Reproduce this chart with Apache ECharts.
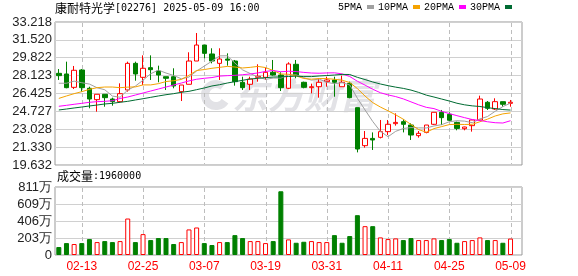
<!DOCTYPE html>
<html><head><meta charset="utf-8">
<script src="https://cdn.jsdelivr.net/npm/echarts@6/dist/echarts.min.js"></script>
<style>html,body{margin:0;padding:0;background:#fff}#c{width:578px;height:276px}</style>
</head><body><div id="c"></div>
<script>
const dates = ['02-10','02-11','02-12','02-13','02-14','02-17','02-18','02-19','02-20','02-21','02-24','02-25','02-26','02-27','02-28',
'03-03','03-04','03-05','03-06','03-07','03-10','03-11','03-12','03-13','03-14','03-17','03-18','03-19','03-20','03-21','03-24','03-25','03-26','03-27','03-28','03-31',
'04-01','04-02','04-03','04-07','04-08','04-09','04-10','04-11','04-14','04-15','04-16','04-17','04-22','04-23','04-24','04-25','04-28','04-29','04-30',
'05-02','05-06','05-07','05-08','05-09'];
const labelDates = ['02-13','02-25','03-07','03-19','03-31','04-11','04-25','05-09'];
const priceTicks = ['19.632','21.330','23.028','24.727','26.425','28.123','29.822','31.520','33.218'];
const volTicks = ['0','203万','406万','609万','811万'];
const opens = [28.34,28.28,27.01,28.66,26.92,25.84,26.35,25.90,25.65,26.76,29.29,27.96,28.88,28.56,28.02,28.02,26.60,27.30,29.51,31.03,30.18,29.29,29.70,29.51,27.49,27.30,27.96,27.96,28.44,28.18,26.92,29.20,27.49,26.98,27.07,27.55,27.71,27.07,27.39,25.08,21.47,22.16,22.26,22.80,23.56,23.75,23.43,22.42,22.73,23.50,24.64,24.45,23.68,23.08,23.37,23.91,25.59,24.95,25.65,25.49];
const closes = [28.12,26.98,28.63,26.98,25.90,26.35,26.03,25.65,26.41,29.29,28.28,28.82,28.69,28.18,27.87,27.14,27.23,29.51,31.03,30.24,29.51,29.70,29.59,27.55,26.98,27.80,28.06,28.44,28.18,26.98,29.23,28.18,27.01,27.07,27.49,27.71,27.49,27.49,26.03,21.15,22.16,22.01,22.80,23.50,23.68,23.50,22.48,22.64,23.43,24.64,24.13,23.88,23.11,23.24,23.91,25.90,25.02,25.65,25.40,25.59];
const highs = [28.75,29.45,29.04,28.75,27.07,26.35,26.35,26.03,27.39,29.45,29.45,30.05,30.05,29.07,28.02,28.82,27.23,30.34,32.17,31.03,30.72,30.72,30.24,29.61,28.02,28.02,29.20,28.88,29.61,28.44,29.39,29.61,27.55,27.36,27.87,28.02,28.02,28.12,27.55,25.08,22.86,22.73,23.91,23.91,24.54,23.97,23.59,22.86,23.43,24.64,24.86,24.64,23.75,23.27,24.00,26.22,25.71,25.97,25.65,25.81];
const lows = [27.71,26.92,26.85,26.60,25.02,24.70,25.17,25.27,25.59,26.60,27.64,27.23,27.71,27.49,26.76,26.92,25.71,27.30,29.51,29.77,29.29,27.71,29.07,27.17,26.76,26.76,27.55,27.71,28.12,26.66,26.85,27.87,26.92,26.44,26.03,27.07,26.12,27.07,25.97,20.83,21.28,21.06,22.16,22.48,23.37,22.73,22.01,22.23,22.64,23.43,23.43,23.81,22.93,22.93,22.80,23.84,24.86,24.86,25.17,25.17];
const volumes = [95,142,131,142,190,154,166,154,166,435,154,249,178,202,202,131,154,305,328,142,119,154,154,237,202,166,166,142,166,760,186,146,158,166,154,154,237,146,226,475,344,344,210,190,198,178,202,178,178,198,178,190,146,166,178,210,178,178,146,196];
const ma5 = [27.40,27.40,27.60,27.45,27.32,26.97,26.78,26.18,26.07,26.75,27.13,27.69,28.30,28.65,28.37,28.14,27.82,27.99,28.56,29.03,29.50,30.00,30.01,29.32,28.67,28.32,28.00,27.77,27.89,27.89,28.18,28.20,27.92,27.69,27.80,27.49,27.35,27.45,27.24,25.97,24.86,23.77,22.83,22.32,22.83,23.10,23.19,23.16,23.15,23.34,23.46,23.74,23.84,23.80,23.65,24.01,24.24,24.74,25.18,25.51];
const ma10 = [25.96,26.19,26.41,26.60,26.82,26.98,27.04,27.04,26.98,27.03,27.05,27.24,27.24,27.36,27.56,27.64,27.76,28.15,28.61,28.70,28.82,28.91,29.00,28.94,28.85,28.91,29.00,28.89,28.61,28.28,28.25,28.10,27.85,27.79,27.85,27.84,27.78,27.69,27.47,26.89,26.18,25.56,25.14,24.78,24.40,23.98,23.48,23.00,22.74,23.09,23.28,23.47,23.50,23.48,23.50,23.74,23.99,24.29,24.49,24.58];
const ma20 = [25.21,25.30,25.40,25.49,25.59,25.65,25.68,25.74,25.95,26.09,26.28,26.47,26.66,26.85,27.04,27.23,27.42,27.62,27.78,27.87,27.94,28.08,28.12,28.15,28.21,28.28,28.38,28.52,28.61,28.49,28.54,28.51,28.43,28.37,28.35,28.38,28.39,28.29,28.04,27.59,27.22,26.83,26.50,26.29,26.13,25.91,25.63,25.35,25.11,24.99,24.73,24.52,24.32,24.13,23.95,23.86,23.74,23.65,23.62,23.84];
const ma30 = [24.86,24.95,25.05,25.14,25.24,25.33,25.43,25.49,25.59,25.68,25.81,25.93,26.06,26.19,26.31,26.41,26.54,26.63,26.79,26.95,27.14,27.26,27.42,27.55,27.68,27.80,27.87,27.93,27.99,28.00,28.04,28.08,28.03,28.03,28.09,28.13,28.18,28.24,28.23,27.96,27.75,27.52,27.33,27.17,27.03,26.91,26.75,26.53,26.27,26.09,25.90,25.71,25.50,25.35,25.25,25.19,25.08,24.99,24.90,24.85];

const priceMin = 19.632, priceMax = 33.218, volMax = 811;
const RED = '#ff0000', GREEN = '#008000';
const axisDates = dates.concat(['']);
const kData = opens.map((o, i) => [o, closes[i], lows[i], highs[i]]);
const volData = volumes.map((v, i) => {
  const up = i === 0 ? closes[i] > opens[i] : closes[i] > closes[i - 1];
  return { value: v, itemStyle: up ? { color: '#fff', borderColor: RED, borderWidth: 1 } : { color: GREEN, borderColor: GREEN, borderWidth: 1 } };
});
const pStep = (priceMax - priceMin) / 8;
const vStep = volMax / 4;
const isLabelDate = (i, v) => labelDates.includes(v !== undefined ? v : axisDates[i]);
// vertical dashed guides at the labelled dates, positioned by the category axis;
// dashes are drawn as short solid segments
const guideSeries = (gi, yVal) => ({
  type: 'custom', xAxisIndex: gi, yAxisIndex: gi, z: 1, silent: true, clip: false,
  data: labelDates.map(d => [d, yVal]),
  renderItem: (params, api) => {
    const p = api.coord([api.value(0), api.value(1)]);
    const cs = params.coordSys;
    const x = Math.round(p[0]);
    const children = [];
    for (let y = cs.y + 1; y < cs.y + cs.height - 1; y += 7) {
      const y2 = Math.min(y + 4, cs.y + cs.height - 1);
      children.push({ type: 'rect', shape: { x: x, y: y, width: 1, height: y2 - y },
        style: { fill: '#bdbdbd' } });
    }
    return { type: 'group', children };
  }
});
const maLine = (name, data, color) => ({
  type: 'line', name, data, xAxisIndex: 0, yAxisIndex: 0, symbol: 'none', showSymbol: false, z: 4,
  lineStyle: { width: 1, color }, itemStyle: { color }, silent: true
});
const labelFont = '"Liberation Sans", Arial, sans-serif';
const titleRich = {
  a: { fontFamily: '"Noto Sans CJK SC"', fontSize: 12, fontWeight: 'normal', color: '#000' },
  b: { fontFamily: '"DejaVu Sans Mono"', fontSize: 10, fontWeight: 'normal', color: '#000' }
};

const chart = echarts.init(document.getElementById('c'), null, { renderer: 'canvas' });
chart.setOption({
  animation: false,
  backgroundColor: '#fff',
  title: [
    { left: 55, top: 2, padding: 0, text: '{a|康耐特光学}{b|[02276] 2025-05-09 16:00}', textStyle: { fontWeight: 'normal', rich: titleRich } },
    { left: 57, top: 170, padding: 0, text: '{a|成交量}{b|:1960000}', textStyle: { fontWeight: 'normal', rich: titleRich } }
  ],
  legend: {
    left: 338, top: 2, padding: 0, align: 'right', icon: 'rect', itemWidth: 7, itemHeight: 4, itemGap: 4,
    selectedMode: false,
    textStyle: { fontFamily: '"Liberation Mono", monospace', fontSize: 10, color: '#000' },
    data: ['5PMA', '10PMA', '20PMA', '30PMA']
  },
  graphic: [
    { type: 'arc', z: 0, silent: true, shape: { cx: 216, cy: 95, r: 11, startAngle: 0.6, endAngle: 5.4 }, style: { stroke: '#e2e2e6', lineWidth: 8, fill: null } },
    { type: 'text', z: 0, silent: true, x: 232, y: 95, style: { text: '东方财富', font: 'italic bold 36px "Noto Sans CJK SC"', fill: '#e2e2e6', verticalAlign: 'middle' } }
  ],
  grid: [
    { left: 55, right: 56, top: 22, height: 143, show: true, borderColor: '#999', borderWidth: 1, backgroundColor: 'transparent' },
    { left: 55, right: 56, top: 187, height: 68, show: true, borderColor: '#999', borderWidth: 1, backgroundColor: 'transparent' }
  ],
  xAxis: [
    { type: 'category', gridIndex: 0, data: axisDates, boundaryGap: true, axisLine: { show: false }, axisTick: { show: false }, axisLabel: { show: false },
      splitLine: { show: false } },
    { type: 'category', gridIndex: 1, data: axisDates, boundaryGap: true, axisLine: { show: false }, axisTick: { show: false },
      splitLine: { show: false },
      axisLabel: { show: true, interval: isLabelDate, color: RED, fontSize: 12, fontFamily: labelFont, margin: 6 } }
  ],
  yAxis: [
    { type: 'value', gridIndex: 0, min: priceMin, max: priceMax, interval: pStep, scale: true,
      axisLine: { show: false }, axisTick: { show: false },
      axisLabel: { formatter: v => priceTicks[Math.round((v - priceMin) / pStep)], color: '#222', fontSize: 13, fontFamily: labelFont, margin: 3 },
      splitLine: { lineStyle: { color: '#d0d0d0', width: 1 } } },
    { type: 'value', gridIndex: 1, min: 0, max: volMax, interval: vStep,
      axisLine: { show: false }, axisTick: { show: false },
      axisLabel: { formatter: v => volTicks[Math.round(v / vStep)], color: '#222', fontSize: 13, fontFamily: labelFont, margin: 3 },
      splitLine: { lineStyle: { color: '#d0d0d0', width: 1 } } }
  ],
  series: [
    guideSeries(0, priceMin), guideSeries(1, 0),
    { type: 'candlestick', name: 'K', data: kData, xAxisIndex: 0, yAxisIndex: 0, barWidth: 5, z: 3, silent: true,
      itemStyle: { color: '#fff', color0: GREEN, borderColor: RED, borderColor0: GREEN, borderWidth: 1 } },
    maLine('5PMA', ma5, '#a0a0a0'),
    maLine('10PMA', ma10, '#f5a300'),
    maLine('20PMA', ma20, '#ff00ff'),
    maLine('30PMA', ma30, '#006b32'),
    { type: 'bar', name: 'VOL', data: volData, xAxisIndex: 1, yAxisIndex: 1, barWidth: 5, z: 3, silent: true }
  ]
});
</script></body></html>
